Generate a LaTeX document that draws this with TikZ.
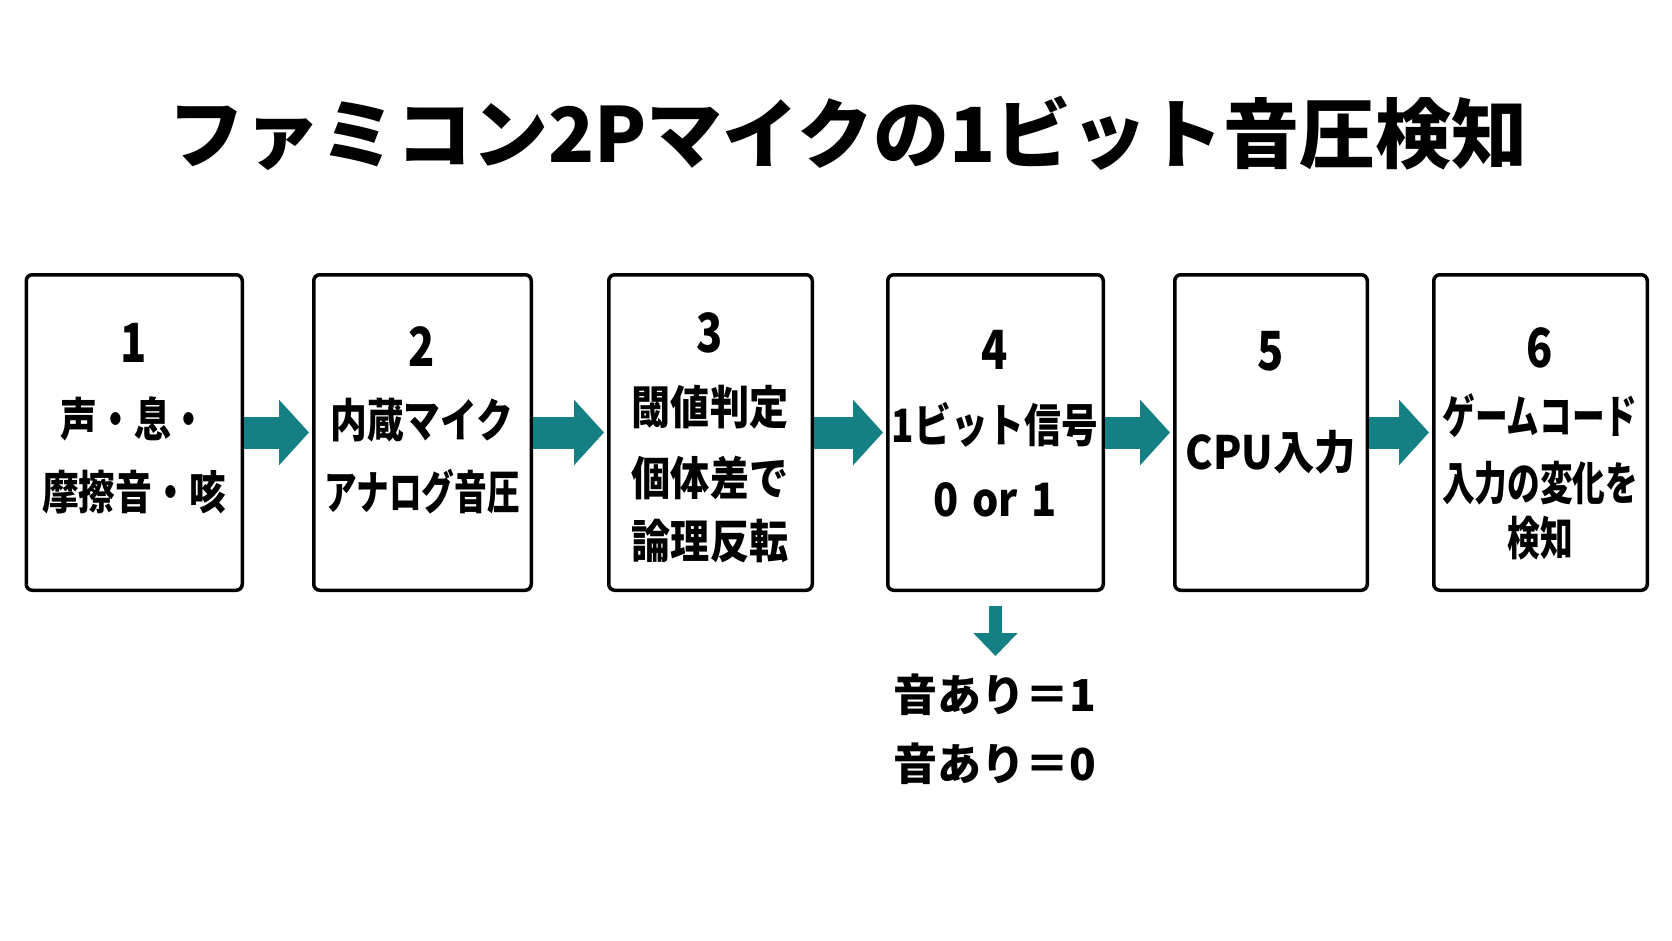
\documentclass[tikz,border=0pt]{standalone}
\usepackage{fontspec}
\setmainfont{Noto Sans CJK JP}
\newfontfamily\jpc[FakeStretch=0.8]{Noto Sans CJK JP}
\newfontfamily\jpnarrow[FakeStretch=0.71]{Noto Sans CJK JP}
\newfontfamily\jpmid[FakeStretch=0.85]{Noto Sans CJK JP}
\newfontfamily\jpwide[FakeStretch=0.9]{Noto Sans CJK JP}
\usetikzlibrary{arrows.meta}
\definecolor{arrteal}{RGB}{20,128,132}
\begin{document}
\begin{tikzpicture}[x=1pt,y=-1pt,
  box/.style={draw=black, line width=3.5pt, rounded corners=6pt, minimum height=315.5pt, inner sep=0pt, fill=white},
  lbl/.style={font=\jpc\bfseries\fontsize{46}{50}\selectfont, inner sep=0pt, text=black},
  lbln/.style={font=\jpnarrow\bfseries\fontsize{46}{50}\selectfont, inner sep=0pt, text=black},
  lblm/.style={font=\jpmid\bfseries\fontsize{46}{50}\selectfont, inner sep=0pt, text=black},
  lblw/.style={font=\jpwide\bfseries\fontsize{46}{50}\selectfont, inner sep=0pt, text=black},
  num/.style={font=\jpc\bfseries\fontsize{54}{58}\selectfont, inner sep=0pt, text=black},
  flow/.style={draw=arrteal, line width=32pt, -{Triangle[length=30pt,width=64pt]}, shorten >=3pt},
  outlbl/.style={font=\bfseries\fontsize{44}{48}\selectfont, inner sep=0pt, text=black}]
\fill[white] (0,0) rectangle (1672,941);
\useasboundingbox (0,0) rectangle (1672,941);

\node[font=\bfseries\fontsize{76}{80}\selectfont, inner sep=0pt] (title) at (848,133) {ファミコン2Pマイクの1ビット音圧検知};

\node[box, minimum width=216pt] (b1) at (134.25,432.5) {};
\node[box, minimum width=217.5pt] (b2) at (422.5,432.5) {};
\node[box, minimum width=203.5pt] (b3) at (710.5,432.5) {};
\node[box, minimum width=215.5pt] (b4) at (995.5,432.5) {};
\node[box, minimum width=192.5pt] (b5) at (1271,432.5) {};
\node[box, minimum width=213.5pt] (b6) at (1540.5,432.5) {};

\draw[flow] (b1.east) -- (b2.west);
\draw[flow] (b2.east) -- (b3.west);
\draw[flow] (b3.east) -- (b4.west);
\draw[flow] (b4.east) -- (b5.west);
\draw[flow] (b5.east) -- (b6.west);

% box 1
\node[num] (n1) at (134,343) {1};
\node[lbl] (t1a) at (134,419) {声・息・};
\node[lbl] (t1b) at (134,492) {摩擦音・咳};
% box 2
\node[num] (n2) at (422,347) {2};
\node[lbl] (t2a) at (422,420) {内蔵マイク};
\node[lbln] (t2b) at (422,492) {アナログ音圧};
% box 3
\node[num] (n3) at (710,333) {3};
\node[lblm] (t3a) at (710,407) {閾値判定};
\node[lblm] (t3b) at (710,478) {個体差で};
\node[lblm] (t3c) at (710,541) {論理反転};
% box 4
\node[num] (n4) at (995,350) {4};
\node[lbl] (t4a) at (995,425) {1ビット信号};
\node[lblw] (t4b) at (995,500) {0\hspace{0.3em}or\hspace{0.3em}1};
% box 5
\node[num] (n5) at (1271,351) {5};
\node[lblw] (t5a) at (1271,452) {CPU入力};
% box 6
\node[num] (n6) at (1540,348) {6};
\node[lbln] (t6a) at (1540,416) {ゲームコード};
\node[lbln] (t6b) at (1540,483) {入力の変化を};
\node[lbln] (t6c) at (1540,538) {検知};

% down arrow and outputs
\coordinate (d) at (995.5,656);
\draw[draw=arrteal, line width=13pt, -{Triangle[length=23pt,width=43pt]}, shorten <=14pt] (b4.south) -- (d);
\node[outlbl] (o1) at (995,695) {音あり＝1};
\node[outlbl] (o2) at (995,764) {音あり＝0};
\end{tikzpicture}
\end{document}
